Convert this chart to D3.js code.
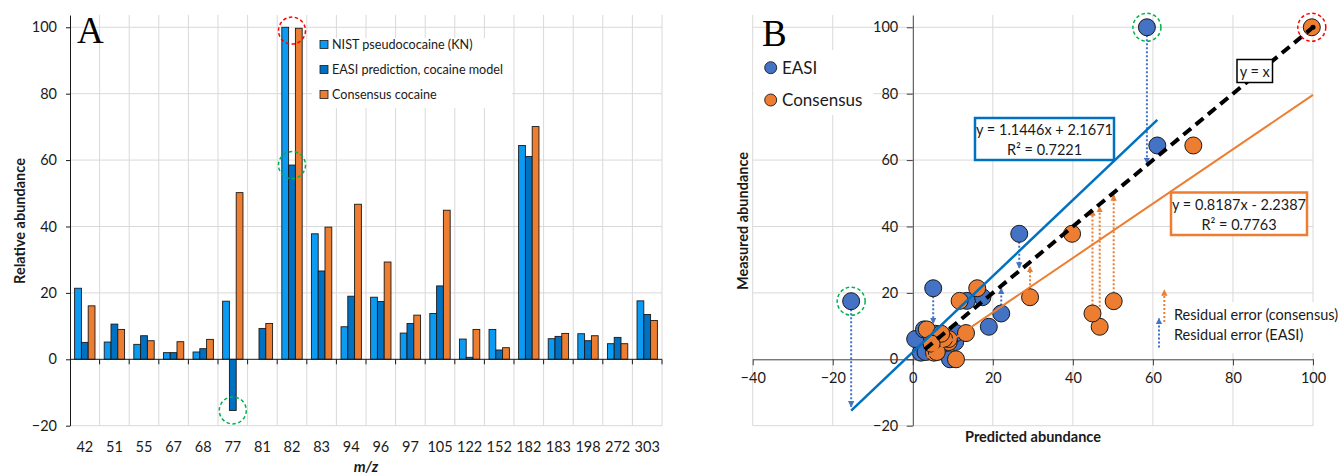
<!DOCTYPE html>
<html>
<head>
<meta charset="UTF-8" />
<style>
  body { margin: 0; background: #fff; }
  svg { font-family: Lato, 'Open Sans', sans-serif; }
</style>
</head>
<body>
<svg></svg>
<script src="https://d3js.org/d3.v7.min.js"></script>
<script>
let width = 1344, height = 474
let svg = d3.select('svg').attr('width', width).attr('height', height)

// m/z channels and relative abundances
const mz = ['42', '51', '55', '67', '68', '77', '81', '82', '83', '94', '96', '97', '105', '122', '152', '182', '183', '198', '272', '303']
const nist = [21.4, 5.2, 4.5, 2.0, 2.2, 17.5, 0, 100, 37.8, 9.8, 18.7, 7.9, 13.8, 6.1, 9.0, 64.4, 6.2, 7.7, 4.7, 17.6]
const easi = [5.1, 10.6, 7.1, 2.0, 3.2, -15.4, 9.3, 58.5, 26.6, 19.0, 17.4, 10.8, 22.1, 0.6, 2.8, 61.1, 6.9, 5.6, 6.6, 13.5]
const consensus = [16.1, 9.0, 5.6, 5.3, 6.0, 50.2, 10.8, 99.7, 39.8, 46.7, 29.3, 13.3, 44.9, 9.0, 3.5, 70.1, 7.8, 7.1, 4.7, 11.7]
const seriesNames = ['NIST pseudococaine (KN)', 'EASI prediction, cocaine model', 'Consensus cocaine']
const yTicks = [-20, 0, 20, 40, 60, 80, 100]
const xTicksB = [-40, -20, 0, 20, 40, 60, 80, 100]

// trendlines printed on panel B
const fitEasi = { slope: 1.1446, intercept: 2.1671, label: 'y = 1.1446x + 2.1671', r2: 'R² = 0.7221' }
const fitCons = { slope: 0.8187, intercept: -2.2387, label: 'y = 0.8187x - 2.2387', r2: 'R² = 0.7763' }
const identityRange = [3, 100]

// residual arrows: which m/z point, and the measured value where the tip lands
const residEasi = [{ mz: '82', to: 59 }, { mz: '77', to: -14.3 }, { mz: '42', to: 10.8 }, { mz: '83', to: 27.5 }, { mz: '105', to: 21.4 }]
const residCons = [{ mz: '105', to: 45 }, { mz: '94', to: 46 }, { mz: '77', to: 49.5 }, { mz: '96', to: 27.9 }]

const barColors = ['#0B9BF2', '#0070C0', '#ED7D31']
const blue = '#4472C4', orange = '#ED7D31', grid = '#d9d9d9', ink = '#1a1a1a'

let defs = svg.append('defs')
;[['arrowBlue', blue], ['arrowOrange', orange]].forEach(([id, c]) => {
  defs.append('marker').attr('id', id)
    .attr('viewBox', '0 0 10 10').attr('refX', 9).attr('refY', 5)
    .attr('markerWidth', 3.2).attr('markerHeight', 3.2).attr('orient', 'auto')
    .append('path').attr('d', 'M0,0L10,5L0,10z').attr('fill', c)
})

// ---------------- Panel A ----------------
let xA = d3.scaleBand().domain(mz).range([70, 662])
let xSub = d3.scaleBand().domain([0, 1, 2]).range([0, xA.bandwidth()]).paddingOuter(0.68)
let yA = d3.scaleLinear().domain([-20, 103.7]).range([425.7, 15])

let gA = svg.append('g')
gA.append('g').selectAll('line').data(mz.slice(1).concat(['end']))
  .enter().append('line')
  .attr('x1', d => d === 'end' ? 662 : xA(d)).attr('x2', d => d === 'end' ? 662 : xA(d))
  .attr('y1', yA.range()[1]).attr('y2', yA.range()[0])
  .attr('stroke', grid)
gA.append('g').selectAll('line').data(yTicks.filter(d => d !== 0))
  .enter().append('line')
  .attr('x1', 70).attr('x2', 662).attr('y1', d => yA(d)).attr('y2', d => yA(d))
  .attr('stroke', grid)

// legend box (white behind gridlines)
let legA = gA.append('g').attr('transform', 'translate(312,38)')
legA.append('rect').attr('width', 200).attr('height', 70).attr('fill', '#fff')
seriesNames.forEach((name, i) => {
  legA.append('rect').attr('x', 8).attr('y', 2.5 + i * 25).attr('width', 8).attr('height', 8)
    .attr('fill', barColors[i]).attr('stroke', ink).attr('stroke-width', 0.8)
  legA.append('text').attr('x', 20).attr('y', 6.5 + i * 25).attr('dy', '0.35em')
    .attr('font-size', 12.6).attr('fill', ink).text(name)
})

// bars
;[nist, easi, consensus].forEach((vals, s) => {
  gA.append('g').selectAll('rect').data(vals.map((v, i) => ({ k: mz[i], v })))
    .enter().append('rect')
    .attr('x', d => xA(d.k) + xSub(s))
    .attr('width', xSub.bandwidth())
    .attr('y', d => yA(Math.max(0, d.v)))
    .attr('height', d => Math.abs(yA(d.v) - yA(0)))
    .attr('fill', barColors[s])
    .attr('stroke', ink).attr('stroke-width', d => d.v === 0 ? 0 : 0.9)
})

// axes
let axA = gA.append('g').attr('transform', 'translate(70,0)')
  .call(d3.axisLeft(yA).tickValues(yTicks).tickSize(4).tickPadding(9).tickSizeOuter(0))
axA.select('.domain').attr('stroke', ink)
axA.selectAll('line').attr('stroke', ink)
axA.selectAll('text').attr('font-size', 14.5).attr('fill', ink).attr('font-family', 'Lato')

gA.append('line').attr('x1', 70).attr('x2', 662).attr('y1', yA(0)).attr('y2', yA(0)).attr('stroke', ink)
gA.append('g').selectAll('line').data(mz.slice(1).concat(['end']))
  .enter().append('line')
  .attr('x1', d => d === 'end' ? 662 : xA(d)).attr('x2', d => d === 'end' ? 662 : xA(d))
  .attr('y1', yA(0)).attr('y2', yA(0) + 5).attr('stroke', ink)
gA.append('g').selectAll('text').data(mz)
  .enter().append('text')
  .attr('x', d => xA(d) + xA.bandwidth() / 2).attr('y', 452)
  .attr('text-anchor', 'middle').attr('font-size', 14.5).attr('fill', ink).text(d => d)

gA.append('text').attr('transform', 'translate(25,221) rotate(-90)')
  .attr('text-anchor', 'middle').attr('font-size', 14.5).attr('font-weight', 'bold').attr('fill', ink)
  .text('Relative abundance')
gA.append('text').attr('x', 366).attr('y', 472).attr('text-anchor', 'middle')
  .attr('font-size', 15).attr('font-weight', 'bold').attr('font-style', 'italic').attr('fill', ink)
  .text('m/z')
gA.append('text').attr('x', 77).attr('y', 43).attr('font-family', 'Liberation Serif')
  .attr('font-size', 37).attr('fill', '#000').text('A')

// highlight circles on panel A
const barCenter = (k, s) => xA(k) + xSub(s) + xSub.bandwidth() / 2
let hlA = [
  { x: (barCenter('82', 0) + barCenter('82', 2)) / 2, y: yA(99), c: '#FF0000' },
  { x: barCenter('82', 1), y: yA(easi[mz.indexOf('82')]), c: '#00B050' },
  { x: barCenter('77', 1), y: yA(easi[mz.indexOf('77')]), c: '#00B050' },
]
gA.append('g').selectAll('circle').data(hlA).enter().append('circle')
  .attr('cx', d => d.x).attr('cy', d => d.y).attr('r', 13.5)
  .attr('fill', 'none').attr('stroke', d => d.c).attr('stroke-width', 1.5).attr('stroke-dasharray', '3.5,2.5')

// ---------------- Panel B ----------------
let xB = d3.scaleLinear().domain([-40, 100]).range([752.7, 1313])
let yB = d3.scaleLinear().domain([-20, 103.7]).range([425.7, 15])
let gB = svg.append('g')

gB.append('g').selectAll('line').data(xTicksB.filter(d => d !== 0))
  .enter().append('line')
  .attr('x1', d => xB(d)).attr('x2', d => xB(d)).attr('y1', 15).attr('y2', yB(-20))
  .attr('stroke', grid)
gB.append('g').selectAll('line').data(yTicks.filter(d => d !== 0))
  .enter().append('line')
  .attr('x1', xB(-40)).attr('x2', xB(100)).attr('y1', d => yB(d)).attr('y2', d => yB(d))
  .attr('stroke', grid)

// white legend areas
gB.append('rect').attr('x', 753.5).attr('y', 50).attr('width', 120).attr('height', 65).attr('fill', '#fff')
gB.append('rect').attr('x', 1170).attr('y', 302).attr('width', 174).attr('height', 51).attr('fill', '#fff')

let axBy = gB.append('g').attr('transform', `translate(${xB(0)},0)`)
  .call(d3.axisLeft(yB).tickValues(yTicks).tickSize(6).tickPadding(8.5).tickSizeOuter(0))
let axBx = gB.append('g').attr('transform', `translate(0,${yB(0)})`)
  .call(d3.axisBottom(xB).tickValues(xTicksB).tickSize(6).tickPadding(7).tickSizeOuter(0))
;[axBy, axBx].forEach(ax => {
  ax.select('.domain').attr('stroke', '#404040')
  ax.selectAll('line').attr('stroke', '#404040')
  ax.selectAll('text').attr('font-size', 14.5).attr('fill', ink).attr('font-family', 'Lato')
})

gB.append('text').attr('transform', 'translate(748,221) rotate(-90)')
  .attr('text-anchor', 'middle').attr('font-size', 14.5).attr('font-weight', 'bold').attr('fill', ink)
  .text('Measured abundance')
gB.append('text').attr('x', 1033).attr('y', 442).attr('text-anchor', 'middle')
  .attr('font-size', 14.5).attr('font-weight', 'bold').attr('fill', ink)
  .text('Predicted abundance')
gB.append('text').attr('x', 762).attr('y', 46).attr('font-family', 'Liberation Serif')
  .attr('font-size', 37).attr('fill', '#000').text('B')

// legend
;[['EASI', blue], ['Consensus', orange]].forEach(([name, c], i) => {
  gB.append('circle').attr('cx', 770.7).attr('cy', 67.7 + i * 32.3).attr('r', 6)
    .attr('fill', c).attr('stroke', ink).attr('stroke-width', 0.9)
  gB.append('text').attr('x', 782).attr('y', 73.5 + i * 32.3).attr('font-size', 17).attr('fill', ink).text(name)
})

// residual arrows
const idx = k => mz.indexOf(k)
gB.append('g').selectAll('line').data(residEasi).enter().append('line')
  .attr('x1', d => xB(easi[idx(d.mz)])).attr('x2', d => xB(easi[idx(d.mz)]))
  .attr('y1', d => yB(nist[idx(d.mz)])).attr('y2', d => yB(d.to))
  .attr('stroke', blue).attr('stroke-width', 2).attr('stroke-dasharray', '2,2')
  .attr('marker-end', 'url(#arrowBlue)')
gB.append('g').selectAll('line').data(residCons).enter().append('line')
  .attr('x1', d => xB(consensus[idx(d.mz)])).attr('x2', d => xB(consensus[idx(d.mz)]))
  .attr('y1', d => yB(nist[idx(d.mz)])).attr('y2', d => yB(d.to))
  .attr('stroke', orange).attr('stroke-width', 2).attr('stroke-dasharray', '2,2')
  .attr('marker-end', 'url(#arrowOrange)')

// scatter points: x = predicted, y = NIST measured
gB.append('g').selectAll('circle').data(mz.map((k, i) => [easi[i], nist[i]]))
  .enter().append('circle')
  .attr('cx', d => xB(d[0])).attr('cy', d => yB(d[1])).attr('r', 8.5)
  .attr('fill', blue).attr('stroke', ink).attr('stroke-width', 1)
gB.append('g').selectAll('circle').data(mz.map((k, i) => [consensus[i], nist[i]]))
  .enter().append('circle')
  .attr('cx', d => xB(d[0])).attr('cy', d => yB(d[1])).attr('r', 8.5)
  .attr('fill', orange).attr('stroke', ink).attr('stroke-width', 1)

// trendlines over the range of each series
let line = d3.line().x(d => xB(d[0])).y(d => yB(d[1]))
const fitPts = (f, xs) => d3.extent(xs).map(x => [x, f.slope * x + f.intercept])
gB.append('path').attr('d', line(fitPts(fitEasi, easi)))
  .attr('stroke', '#0070C0').attr('stroke-width', 2.5).attr('fill', 'none')
gB.append('path').attr('d', line(fitPts(fitCons, consensus.concat([100]))))
  .attr('stroke', orange).attr('stroke-width', 2).attr('fill', 'none')
gB.append('path').attr('d', line(identityRange.map(x => [x, x])))
  .attr('stroke', '#000').attr('stroke-width', 4).attr('stroke-dasharray', '10,6').attr('fill', 'none')
gB.append('circle').attr('cx', xB(100)).attr('cy', yB(100)).attr('r', 2.5).attr('fill', '#000')

// equation boxes
function eqBox(x, y, w, h, color, lines, sw) {
  let g = gB.append('g').attr('transform', `translate(${x},${y})`)
  g.append('rect').attr('width', w).attr('height', h).attr('fill', '#fff')
    .attr('stroke', color).attr('stroke-width', sw)
  lines.forEach((t, i) => {
    g.append('text').attr('x', w / 2).attr('y', (lines.length === 1 ? 17.5 : 17 + i * 20))
      .attr('text-anchor', 'middle').attr('font-size', 14.5).attr('fill', ink).text(t)
  })
}
eqBox(975, 118, 139, 42, '#0070C0', [fitEasi.label, fitEasi.r2], 2.5)
eqBox(1171, 192.5, 136, 42.5, orange, [fitCons.label, fitCons.r2], 2.5)
eqBox(1237, 59.5, 35.5, 23, '#000', ['y = x'], 1.5)

// highlight circles on panel B
let hlB = [
  { x: xB(easi[idx('82')]), y: yB(nist[idx('82')]), c: '#00B050' },
  { x: xB(easi[idx('77')]), y: yB(nist[idx('77')]), c: '#00B050' },
  { x: xB(consensus[idx('82')]), y: yB(nist[idx('82')]), c: '#FF0000' },
]
gB.append('g').selectAll('circle').data(hlB).enter().append('circle')
  .attr('cx', d => d.x).attr('cy', d => d.y).attr('r', 14)
  .attr('fill', 'none').attr('stroke', d => d.c).attr('stroke-width', 1.5).attr('stroke-dasharray', '3.5,2.5')

// residual legend
gB.append('line').attr('x1', 1164.3).attr('x2', 1164.3).attr('y1', 322).attr('y2', 290)
  .attr('stroke', orange).attr('stroke-width', 2).attr('stroke-dasharray', '2,2').attr('marker-end', 'url(#arrowOrange)')
gB.append('line').attr('x1', 1159).attr('x2', 1159).attr('y1', 347.5).attr('y2', 318.5)
  .attr('stroke', blue).attr('stroke-width', 2).attr('stroke-dasharray', '2,2').attr('marker-end', 'url(#arrowBlue)')
gB.append('text').attr('x', 1174).attr('y', 319.5).attr('font-size', 14.5).attr('fill', ink).text('Residual error (consensus)')
gB.append('text').attr('x', 1174).attr('y', 339.5).attr('font-size', 14.5).attr('fill', ink).text('Residual error (EASI)')
</script>
</body>
</html>
